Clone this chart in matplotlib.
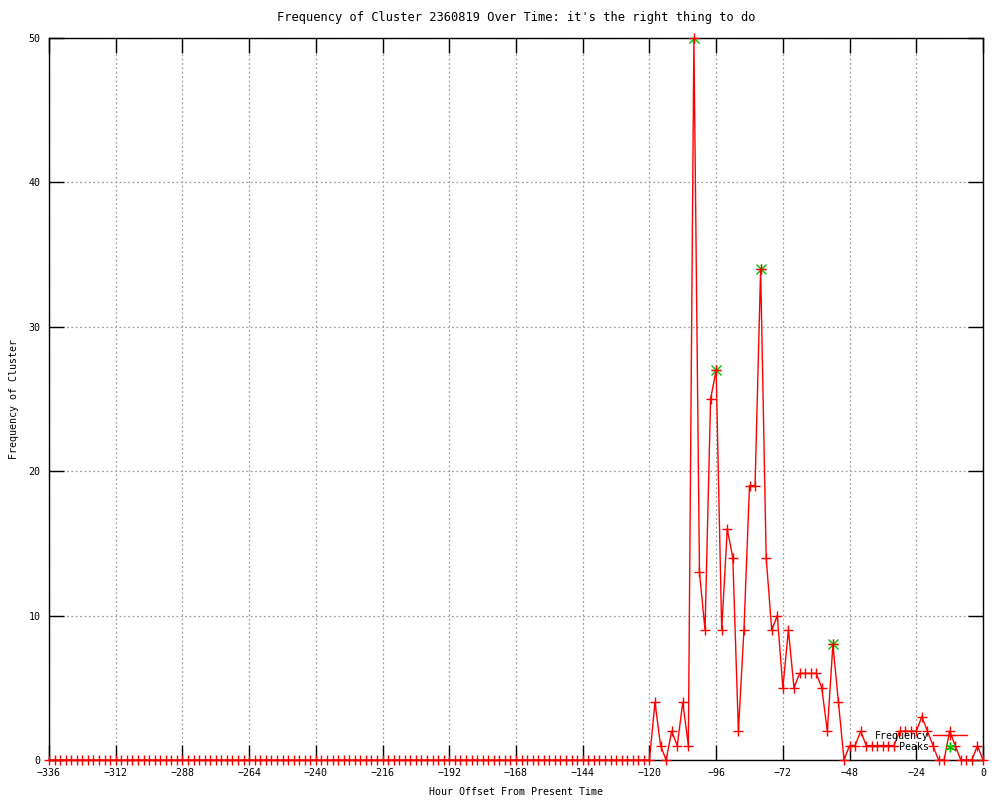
import numpy as np
import matplotlib.pyplot as plt
from matplotlib.lines import Line2D

# hours before now, one sample every 2 hours
hours = np.arange(-336, 1, 2)

# nonzero part of the series, from -120 up to 0
recent = [0, 4, 1, 0, 2, 1, 4, 1, 50, 13, 9, 25, 27, 9, 16, 14, 2, 9, 19, 19,
          34, 14, 9, 10, 5, 9, 5, 6, 6, 6, 6, 5, 2, 8, 4, 0, 1, 1, 2,
          1, 1, 1, 1, 1, 1, 2, 2, 2, 2, 3, 2, 1, 0, 0, 2, 1, 0, 0, 0, 1, 0]
freq = [0] * (len(hours) - len(recent)) + recent

peak_hours = [-104, -96, -80, -54]
peak_vals = [50, 27, 34, 8]

xticks = list(range(-336, 1, 24))
yticks = list(range(0, 51, 10))

plt.rcParams['font.family'] = 'DejaVu Sans Mono'
plt.rcParams['font.size'] = 7.2

fig = plt.figure(figsize=(10, 8), dpi=100)
ax = fig.add_axes([0.049, 0.05, 0.934, 0.9025])

green = '#00c000'
# peaks first so the red crosses sit on top
ax.plot(peak_hours, peak_vals, linestyle='none', marker='x', color=green,
        markersize=7, markeredgewidth=1, zorder=3)
ax.plot(peak_hours, peak_vals, linestyle='none', marker='+', color=green,
        markersize=7, markeredgewidth=1, zorder=3)
ax.plot(hours, freq, color='red', linewidth=1, marker='+', markersize=7,
        markeredgewidth=1, zorder=4, clip_on=False)

ax.set_xlim(-336, 0)
ax.set_ylim(0, 50)
ax.set_xticks(xticks)
ax.set_yticks(yticks)
ax.tick_params(direction='in', length=11, width=1, top=True, right=True, pad=6)
ax.grid(True, color='#a0a0a0', linestyle=(0, (1.5, 2)), linewidth=0.9)
for s in ax.spines.values():
    s.set_linewidth(1)

ax.set_title("Frequency of Cluster 2360819 Over Time: it's the right thing to do",
             pad=12)
ax.set_xlabel('Hour Offset From Present Time', labelpad=6)
ax.set_ylabel('Frequency of Cluster', labelpad=7)

h1 = Line2D([], [], color='red', linewidth=1, marker='+', markersize=7)
h2 = Line2D([], [], color=green, linestyle='none', marker=(6, 2, 0), markersize=7)
ax.legend([h1, h2], ['Frequency', 'Peaks'], loc='lower right',
          bbox_to_anchor=(0.988, 0.004), frameon=False, markerfirst=False,
          handlelength=3.4, handletextpad=0.4, labelspacing=0.15, borderpad=0)

fig.savefig('out.png', dpi=100)
